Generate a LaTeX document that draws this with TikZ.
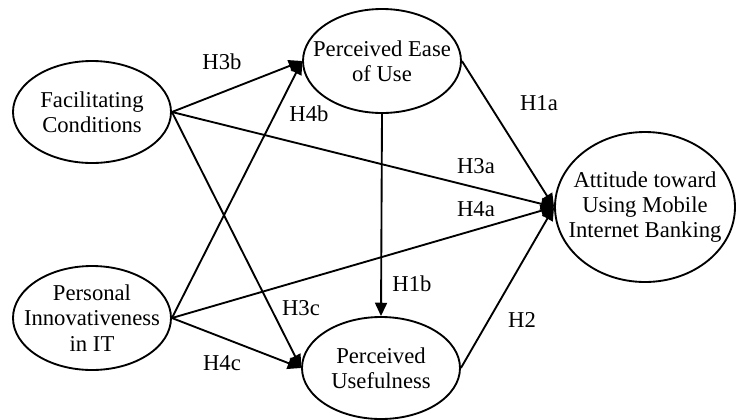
\documentclass[tikz,border=0pt]{standalone}
\usepackage{fontspec}
\setmainfont{Liberation Serif}
\usetikzlibrary{shapes,arrows.meta}

\begin{document}
\begin{tikzpicture} [
                x=0.75pt, y=-0.75pt,
                construct/.style={ellipse,draw,line width=1.4pt,inner xsep=-12pt,inner ysep=-5pt,
                    align=center,font=\fontsize{17}{19}\selectfont},
                edge/.style = {draw,line width=1.4pt,-{Triangle[length=10pt,width=9pt]}},
                hyp/.style = {font=\fontsize{17}{19}\selectfont}
            ]
        \useasboundingbox (0,0) rectangle (736,419);
        % First we draw the constructs
            \foreach \pos/\name/\w/\h/\txt in {
                {(92,112)/FC/79/51/{Facilitating\\Conditions}},
                {(382,61)/PEU/79/52/{Perceived Ease\\of Use}},
                {(92,318)/PI/79/52/{Personal\\Innovativeness\\in IT}},
                {(381,368)/PU/79/51/{Perceived\\Usefulness}},
            {(645,207)/ATT/90/75/{Attitude toward\\Using Mobile\\Internet Banking}}}
            \node[construct,minimum width=1.5*\w pt,minimum height=1.5*\h pt] (\name) at \pos {\txt};
        % Connect constructs with paths
            \foreach \source/ \dest in {
            FC/PEU, FC/PU, FC/ATT, PI/PEU, PI/ATT, PI/PU, PEU/ATT, PU/ATT}
            \path[edge] (\source.east) -- (\dest.west);
            \path[edge] (PEU.south) -- (PU.north);
        % hypothesis labels
            \foreach \pos/\name in {
                {(222,62)/H3b}, {(309,114)/H4b}, {(539,103)/H1a},
                {(476,166)/H3a}, {(476,209)/H4a}, {(301,308)/H3c},
            {(222,363)/H4c}, {(412,284)/H1b}, {(522,320)/H2}}
            \node[hyp] (\name) at \pos {\name};
        \end{tikzpicture}
\end{document}
